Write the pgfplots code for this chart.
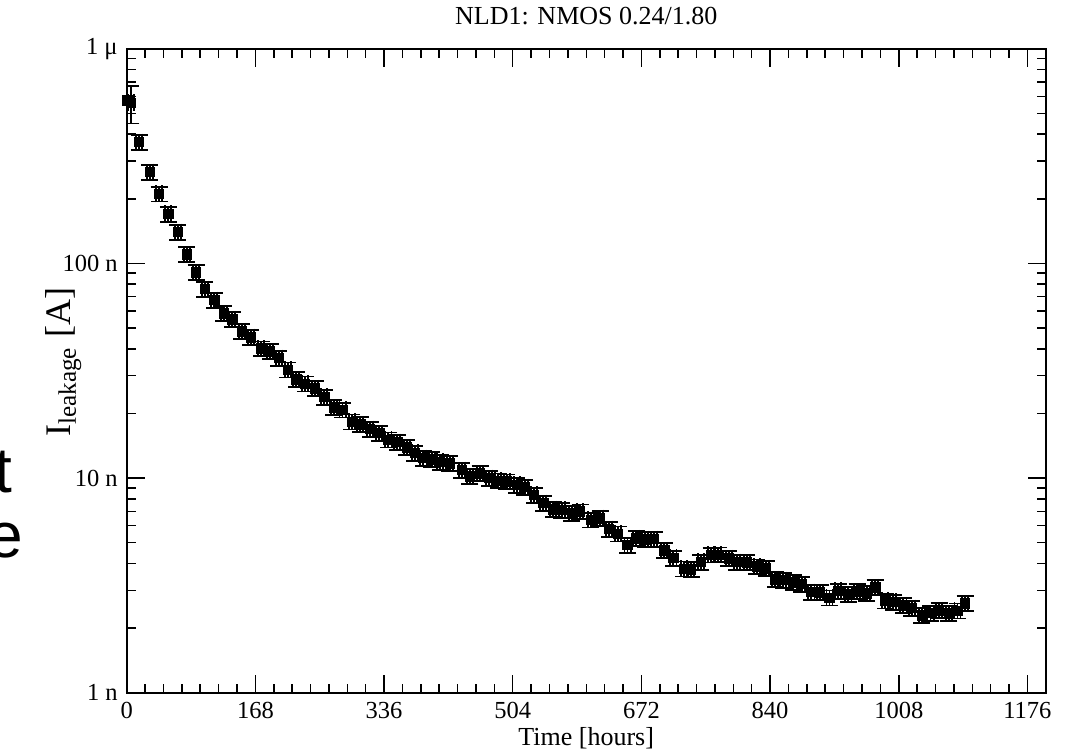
\documentclass[border=0pt]{standalone}
\usepackage{pgfplots}
\pgfplotsset{compat=1.18}
\usepackage{pgfplotstable}
\usepackage{fontspec}
\setmainfont{Liberation Serif}
\newfontfamily\sansfont{Liberation Sans}
\pgfplotstableread{
x y ey
1 5.75e-7 0.22
5.6 5.60e-7 0.20
16.1 3.67e-7 0.08
30.0 2.66e-7 0.08
42.2 2.11e-7 0.08
54.3 1.70e-7 0.08
66.6 1.40e-7 0.08
78.3 1.10e-7 0.08
90.5 9.09e-8 0.08
102.2 7.59e-8 0.08
114.4 6.75e-8 0.08
126.6 5.84e-8 0.08
137.9 5.48e-8 0.08
150.2 4.82e-8 0.08
161.9 4.53e-8 0.08
175.4 4.01e-8 0.08
187.1 3.89e-8 0.08
198.5 3.62e-8 0.08
210.2 3.20e-8 0.08
221.4 2.88e-8 0.08
232.8 2.75e-8 0.08
245.9 2.62e-8 0.08
258.0 2.39e-8 0.08
270.3 2.13e-8 0.08
281.8 2.08e-8 0.08
293.8 1.83e-8 0.08
305.0 1.78e-8 0.08
317.7 1.69e-8 0.08
329.8 1.62e-8 0.08
341.6 1.51e-8 0.08
353.3 1.47e-8 0.08
365.6 1.39e-8 0.08
376.4 1.31e-8 0.08
387.3 1.24e-8 0.08
398.2 1.22e-8 0.08
409.1 1.19e-8 0.08
422.1 1.17e-8 0.08
437.4 1.09e-8 0.08
448.2 1.02e-8 0.08
461.3 1.05e-8 0.08
473.4 9.99e-9 0.08
485.2 9.73e-9 0.08
496.2 9.63e-9 0.08
509.2 9.30e-9 0.08
520.0 9.07e-9 0.08
531.8 8.35e-9 0.08
543.9 7.64e-9 0.08
557.0 7.16e-9 0.08
568.0 7.11e-9 0.08
581.0 6.86e-9 0.08
591.9 6.98e-9 0.08
605.8 6.39e-9 0.08
618.0 6.50e-9 0.08
629.7 5.78e-9 0.08
641.5 5.51e-9 0.08
653.9 4.87e-9 0.08
665.4 5.23e-9 0.08
676.7 5.19e-9 0.08
688.5 5.20e-9 0.08
701.9 4.61e-9 0.08
713.7 4.25e-9 0.08
727.6 3.78e-9 0.08
736.8 3.76e-9 0.08
749.8 4.07e-9 0.08
762.9 4.39e-9 0.08
772.4 4.40e-9 0.08
786.1 4.23e-9 0.08
796.5 4.06e-9 0.08
809.5 4.05e-9 0.08
822.6 3.87e-9 0.08
834.7 3.80e-9 0.08
846.5 3.37e-9 0.08
857.3 3.35e-9 0.08
870.4 3.27e-9 0.08
881.3 3.21e-9 0.08
893.9 2.94e-9 0.08
905.2 2.93e-9 0.08
917.6 2.77e-9 0.08
929.1 2.98e-9 0.08
942.2 2.88e-9 0.08
953.8 2.96e-9 0.08
966.2 2.90e-9 0.08
977.3 3.10e-9 0.08
990.1 2.68e-9 0.08
1000.9 2.65e-9 0.08
1014.0 2.55e-9 0.08
1024.9 2.48e-9 0.08
1038.0 2.29e-9 0.08
1049.5 2.35e-9 0.08
1060.8 2.42e-9 0.08
1073.4 2.35e-9 0.08
1084.7 2.41e-9 0.08
1094.5 2.61e-9 0.08
}\datatable
\begin{document}
\begin{tikzpicture}
\useasboundingbox (-63.35pt,-28.65pt) rectangle (471.65pt,346.35pt);
\begin{axis}[
  at={(0,0)}, anchor=south west,
  scale only axis, width=459.55pt, height=322pt,
  xmin=0, xmax=1200, ymode=log, ymin=1e-9, ymax=1e-6,
  xtick={0,168,336,504,672,840,1008,1176},
  xticklabels={0,168,336,504,672,840,1008,1176},
  minor x tick num=6,
  ytick={1e-9,1e-8,1e-7,1e-6},
  yticklabels={1 n,10 n,100 n,1 μ},
  minor ytick={2e-9,3e-9,4e-9,5e-9,6e-9,7e-9,8e-9,9e-9,2e-8,3e-8,4e-8,5e-8,6e-8,7e-8,8e-8,9e-8,2e-7,3e-7,4e-7,5e-7,6e-7,7e-7,8e-7,9e-7},
  tick align=inside,
  major tick length=9pt, minor tick length=4.5pt,
  tick style={black, line width=0.75pt},
  axis line style={line width=1pt},
  ticklabel style={font=\fontsize{12.25}{14}\selectfont},
  xticklabel style={yshift=-1pt},
  yticklabel style={xshift=-1pt},
  title={NLD1: NMOS 0.24/1.80},
  title style={at={(axis description cs:0.5,1)}, anchor=base, yshift=6pt, font=\fontsize{13}{15}\selectfont},
  xlabel={Time [hours]},
  xlabel style={at={(axis description cs:0.5,0)}, anchor=base, yshift=-26.5pt, font=\fontsize{13}{15}\selectfont},
  ylabel={I\textsubscript{leakage} [A]},
  ylabel style={at={(axis description cs:-0.069,0.513)}, anchor=center, rotate=0, font=\fontsize{18}{21}\selectfont},
]
\addplot[black, only marks, mark=square*, mark size=2.35pt,
  error bars/.cd, x dir=both, x fixed=4, y dir=both, y explicit relative,
  error bar style={line width=0.9pt},
  error mark options={rotate=90, mark size=4.25pt, line width=0.9pt}]
  table[x=x, y=y, y error=ey] {\datatable};
\end{axis}
\node[anchor=base east, inner sep=0pt, font=\sansfont\fontsize{32}{38}\selectfont] at (-56.85pt,100.35pt) {t};
\node[anchor=base east, inner sep=0pt, font=\sansfont\fontsize{32}{38}\selectfont] at (-51.85pt,67.85pt) {e};
\end{tikzpicture}
\end{document}
